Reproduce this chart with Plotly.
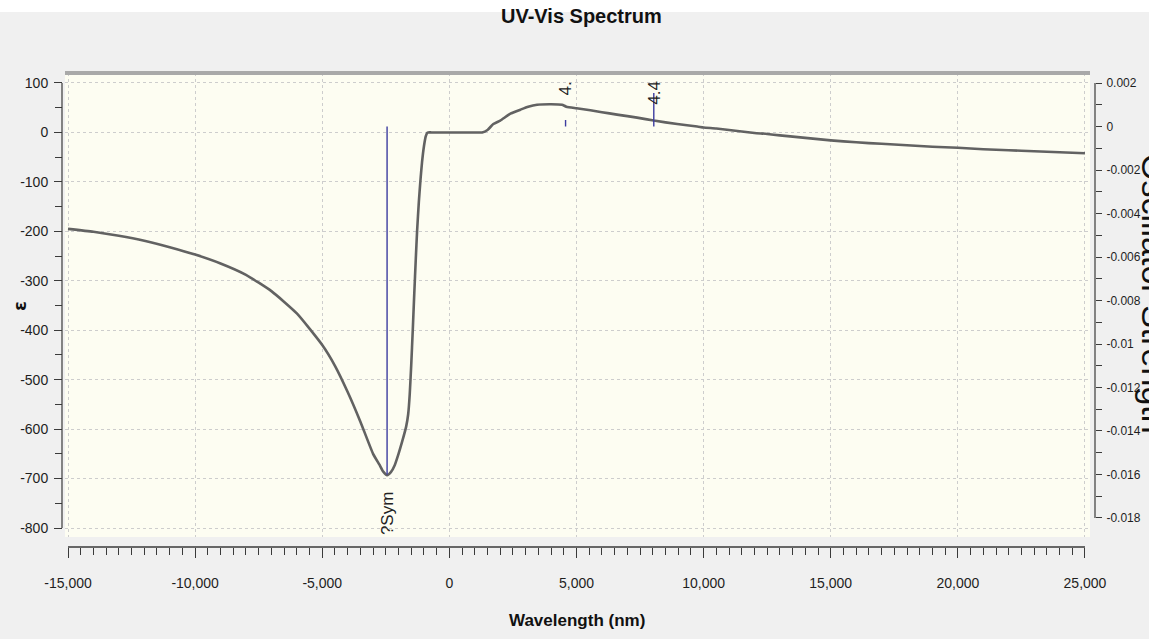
import plotly.graph_objects as go

# ---- spectrum data -------------------------------------------------------
wavelength_nm = [
    -15000, -14000, -13000, -12000, -11000, -10000, -9000, -8000, -7000,
    -6000, -5000, -4500, -4000, -3500, -3000, -2750, -2600, -2450,
    -2300, -2150, -2000, -1850, -1700, -1620, -1560, -1500, -1440, -1380,
    -1320, -1270, -1200, -1130, -1075, -1000, -930, -870, -830, -700,
    0, 1100, 1290, 1500, 1730, 2000, 2400, 2790, 3100, 3450, 4000, 4430,
    4600, 5000, 5545, 6000, 6595, 7000, 7382, 8040, 8960, 9750,
    10000, 10500, 11000, 11500, 12000, 12500, 13000, 14000, 15000, 16000,
    17000, 18000, 19000, 20000, 21000, 22000, 23000, 24000, 25000,
]
epsilon = [
    -195, -201, -209, -219, -232, -247, -265, -288, -321,
    -366, -430, -472, -525, -585, -650, -672, -686, -693,
    -687, -673, -650, -624, -595, -570, -530, -470, -400, -325,
    -255, -200, -140, -92, -60, -28, -8, -1, 0, 0,
    0, 0, 0, 5, 17, 24, 38, 46, 52, 56, 57, 56,
    52, 49, 45, 41, 36, 33, 30, 24, 17, 12,
    10, 8, 5, 2, -1, -3, -6, -11, -16, -20,
    -23, -26, -29, -31, -34, -36, -38, -40, -42,
]

# oscillator strength sticks
stick_nm = [-2450, 4570, 8040]
stick_f = [-0.016, 0.0003, 0.00154]
stick_labels = ["?Sym", "4.", "4.4"]

# axis ticks
x_ticks = [-15000, -10000, -5000, 0, 5000, 10000, 15000, 20000, 25000]
x_ticklabels = ["-15,000", "-10,000", "-5,000", "0", "5,000", "10,000",
                "15,000", "20,000", "25,000"]
eps_ticks = [100, 0, -100, -200, -300, -400, -500, -600, -700, -800]
eps_ticklabels = ["100", "0", "-100", "-200", "-300", "-400", "-500",
                  "-600", "-700", "-800"]
osc_ticks = [0.002, 0, -0.002, -0.004, -0.006, -0.008, -0.01, -0.012,
             -0.014, -0.016, -0.018]
osc_ticklabels = ["0.002", "0", "-0.002", "-0.004", "-0.006", "-0.008",
                  "-0.01", "-0.012", "-0.014", "-0.016", "-0.018"]

# ---- layout geometry (pixels) --------------------------------------------
W, H = 1149, 639
M_L, M_R, M_T, M_B = 55, 50, 73, 80
PW, PH = W - M_L - M_R, H - M_T - M_B


def px_x(px):
    return (px - M_L) / PW


def px_y(py):
    return (H - M_B - py) / PH


X_RANGE = [-15118, 25197]
Y_RANGE = [-818.2, 120.2]
Y2_RANGE = [-0.018874, 0.00246]
X_DOM = [px_x(65), px_x(1090)]
Y_DOM = [px_y(537), 1.0]
X_LINE_POS = px_y(547)
YL_POS = px_x(62)
YR_POS = px_x(1095)


def y_to_paper(v, rng):
    return Y_DOM[0] + (v - rng[0]) / (rng[1] - rng[0]) * (Y_DOM[1] - Y_DOM[0])


def x_to_paper(v):
    return X_DOM[0] + (v - X_RANGE[0]) / (X_RANGE[1] - X_RANGE[0]) * (X_DOM[1] - X_DOM[0])


SANS = "Liberation Sans, Arial, sans-serif"
tick_font = dict(family=SANS, size=14, color="#1e1e1e")
right_tick_font = dict(family=SANS, size=12, color="#1e1e1e")
AXIS_COLOR = "#3a3a3a"
GRID_COLOR = "#cdcdcd"

fig = go.Figure()

fig.add_trace(go.Scatter(
    x=wavelength_nm, y=epsilon, mode="lines",
    line=dict(color="#626262", width=2.6, shape="spline", smoothing=0.5),
    hoverinfo="skip", showlegend=False,
))

sx, sy = [], []
for w, f in zip(stick_nm, stick_f):
    sx += [w, w, None]
    sy += [0, f, None]
fig.add_trace(go.Scatter(
    x=sx, y=sy, yaxis="y2", mode="lines",
    line=dict(color="#3c3ca0", width=1.4),
    hoverinfo="skip", showlegend=False,
))

shapes = [
    # white strip along the top edge
    dict(type="rect", xref="paper", yref="paper",
         x0=px_x(0), x1=px_x(W), y0=px_y(12), y1=px_y(0),
         fillcolor="white", line=dict(width=0), layer="below"),
    # grey frame bar on top of the plot area
    dict(type="rect", xref="paper", yref="paper",
         x0=X_DOM[0], x1=X_DOM[1], y0=px_y(75), y1=px_y(71),
         fillcolor="#a9a9a9", line=dict(width=0), layer="above"),
    # left axis line
    dict(type="line", xref="paper", yref="paper",
         x0=YL_POS, x1=YL_POS,
         y0=y_to_paper(eps_ticks[-1], Y_RANGE), y1=y_to_paper(eps_ticks[0], Y_RANGE),
         line=dict(color=AXIS_COLOR, width=1.2)),
    # right axis line
    dict(type="line", xref="paper", yref="paper",
         x0=YR_POS, x1=YR_POS,
         y0=y_to_paper(osc_ticks[-1], Y2_RANGE), y1=y_to_paper(osc_ticks[0], Y2_RANGE),
         line=dict(color=AXIS_COLOR, width=1.2)),
    # bottom axis line
    dict(type="line", xref="paper", yref="paper",
         x0=x_to_paper(x_ticks[0]), x1=x_to_paper(x_ticks[-1]),
         y0=X_LINE_POS, y1=X_LINE_POS,
         line=dict(color=AXIS_COLOR, width=1.4)),
]

annotations = [
    dict(text="<b>UV-Vis Spectrum</b>", xref="paper", yref="paper",
         x=px_x(581), y=px_y(16), xanchor="center", yanchor="middle",
         showarrow=False, font=dict(family=SANS, size=20, color="#111111")),
    dict(text="<b>Wavelength (nm)</b>", xref="paper", yref="paper",
         x=px_x(577), y=px_y(620), xanchor="center", yanchor="middle",
         showarrow=False, font=dict(family=SANS, size=17, color="#111111")),
    dict(text="<b>ε</b>", xref="paper", yref="paper",
         x=px_x(19), y=px_y(306), xanchor="center", yanchor="middle",
         textangle=-90, showarrow=False,
         font=dict(family="DejaVu Sans", size=18, color="#111111")),
    dict(text="Oscillator Strength", xref="paper", yref="paper",
         x=px_x(1133), y=px_y(294), xanchor="left", yanchor="middle",
         textangle=90, showarrow=False,
         font=dict(family=SANS, size=34, color="#111111")),
]

label_centres_px = [514, 89, 93]
for w, lab, cy in zip(stick_nm, stick_labels, label_centres_px):
    annotations.append(dict(
        text=lab, xref="x", yref="paper", x=w, y=px_y(cy),
        xanchor="center", yanchor="middle", textangle=-90, showarrow=False,
        font=dict(family=SANS, size=17, color="#222222")))

fig.update_layout(
    width=W, height=H, autosize=False,
    margin=dict(l=M_L, r=M_R, t=M_T, b=M_B, pad=0, autoexpand=False),
    paper_bgcolor="#f0f0f0", plot_bgcolor="#fdfdf2",
    showlegend=False,
    shapes=shapes, annotations=annotations,
    xaxis=dict(
        domain=X_DOM, range=X_RANGE, anchor="free", position=X_LINE_POS,
        showline=False, zeroline=False, automargin=False,
        tickmode="array", tickvals=x_ticks, ticktext=x_ticklabels,
        ticks="outside", ticklen=10, tickwidth=1.2, tickcolor=AXIS_COLOR,
        ticklabelstandoff=13, tickfont=tick_font,
        showgrid=True, gridcolor=GRID_COLOR, griddash="dot", gridwidth=1,
        minor=dict(tickmode="linear", tick0=0, dtick=500, ticks="outside",
                   ticklen=7, tickwidth=1.1, tickcolor=AXIS_COLOR,
                   showgrid=False),
    ),
    yaxis=dict(
        domain=Y_DOM, range=Y_RANGE, anchor="free", position=YL_POS,
        side="left", showline=False, zeroline=False, automargin=False,
        tickmode="array", tickvals=eps_ticks, ticktext=eps_ticklabels,
        ticks="outside", ticklen=8, tickwidth=1.2, tickcolor=AXIS_COLOR,
        tickfont=tick_font, ticklabelstandoff=3,
        showgrid=True, gridcolor=GRID_COLOR, griddash="dot", gridwidth=1,
        minor=dict(tickmode="linear", tick0=0, dtick=50, ticks="outside",
                   ticklen=7, tickwidth=1.1, tickcolor=AXIS_COLOR,
                   showgrid=False),
    ),
    yaxis2=dict(
        domain=Y_DOM, range=Y2_RANGE, overlaying="y", anchor="free",
        position=YR_POS, side="right", showline=False, zeroline=False,
        automargin=False,
        tickmode="array", tickvals=osc_ticks, ticktext=osc_ticklabels,
        ticks="outside", ticklen=6, tickwidth=1.2, tickcolor=AXIS_COLOR,
        tickfont=right_tick_font, ticklabelstandoff=2, showgrid=False,
        minor=dict(tickmode="linear", tick0=0, dtick=0.001, ticks="outside",
                   ticklen=6, tickwidth=1.1, tickcolor=AXIS_COLOR,
                   showgrid=False),
    ),
)

fig.write_html("out.html")
